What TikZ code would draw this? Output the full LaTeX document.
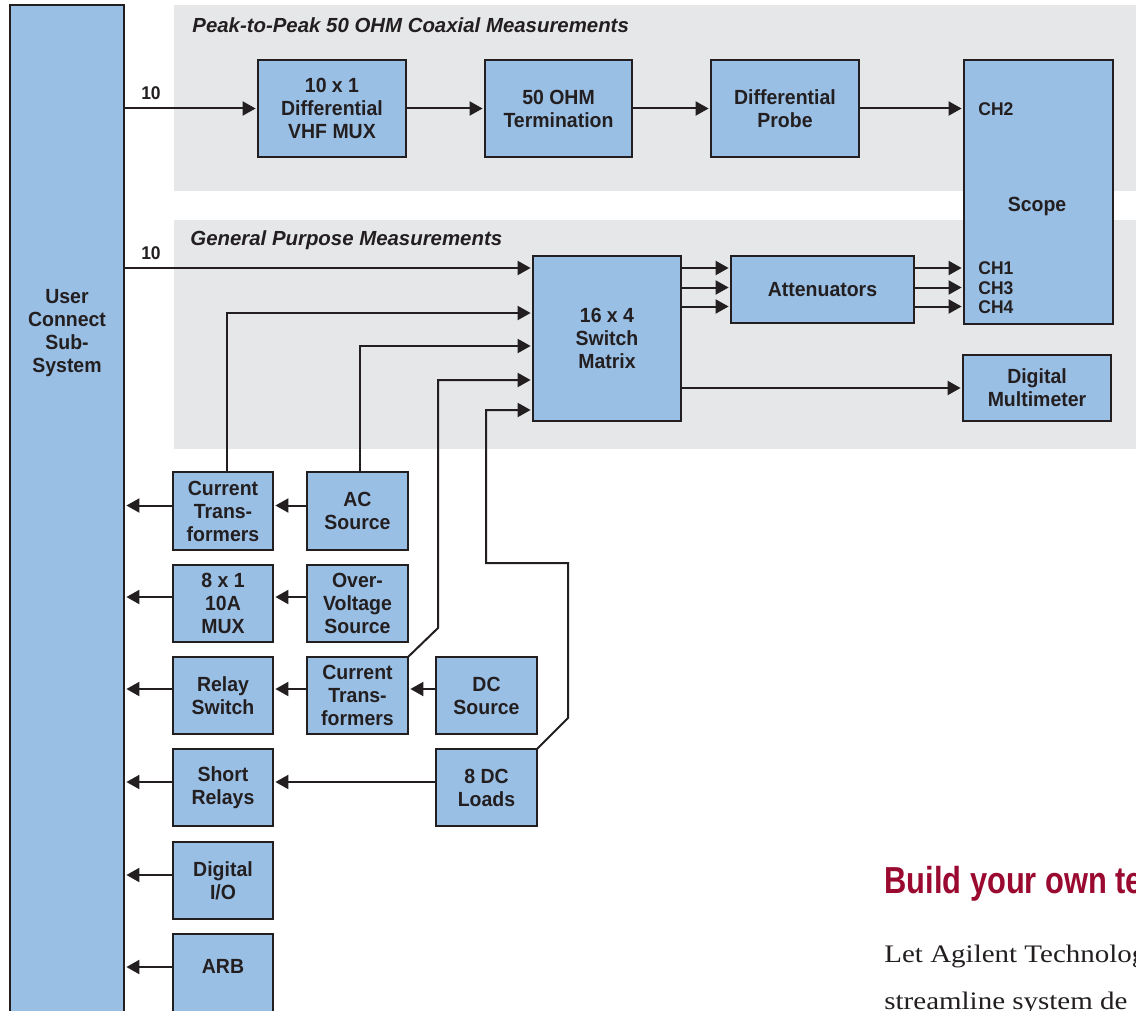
\documentclass[tikz,border=0pt]{standalone}
\usepackage{fontspec}
\setmainfont{Liberation Sans}
\newfontfamily\boxfont[FakeStretch=0.95]{Liberation Sans}
\newfontfamily\titlefont{Liberation Sans}
\newfontfamily\headfont[FakeStretch=0.82]{Liberation Sans}
\newfontfamily\bodyfont[FakeStretch=1.15]{Liberation Serif}
\usetikzlibrary{arrows.meta,calc}
\definecolor{boxc}{HTML}{9ABFE5}
\definecolor{bandc}{HTML}{E6E7E9}
\definecolor{linec}{HTML}{231F20}
\definecolor{headc}{HTML}{9A0A30}
\newcommand\bx[6]{\node[box,minimum width={(#4-#2)*0.5pt},minimum height={(#5-#3)*0.5pt}] (#1) at ({(#2+#4)/2},{(#3+#5)/2}) {#6};}
\begin{document}
\begin{tikzpicture}[x=0.5pt,y=-0.5pt,
  box/.style={draw=linec,line width=1pt,fill=boxc,inner sep=0pt,outer sep=0pt,align=center,
    text=linec,font={\boxfont\bfseries\fontsize{10.25}{11.5}\selectfont}},
  txt/.style={inner sep=0pt,outer sep=0pt,align=center,text=linec,
    font={\boxfont\bfseries\fontsize{10.25}{11.5}\selectfont}},
  small/.style={inner sep=0pt,text=linec,font={\boxfont\bfseries\fontsize{9.2}{10}\selectfont}},
  title/.style={inner sep=0pt,text=linec,font={\titlefont\bfseries\itshape\fontsize{10.2}{11}\selectfont}},
  arr/.style={draw=linec,line width=1pt,-{Triangle[length=6.5pt,width=7pt]},shorten >=1.2pt},
  conn/.style={draw=linec,line width=1pt}]
\useasboundingbox (0,0) rectangle (1136,1011);
\clip (0,0) rectangle (1136,1011);
\fill[white] (0,0) rectangle (1136,1011);
% bands
\fill[bandc] (174,5) rectangle (1150,191);
\fill[bandc] (174,220) rectangle (1150,449);
\node[title,anchor=base west] (t1) at (192,33) {Peak-to-Peak 50 OHM Coaxial Measurements};
\node[title,anchor=base west] (t2) at (190,245) {General Purpose Measurements};
% boxes
\bx{uc}{10}{5}{124}{1030}{}
\bx{mux}{258}{60}{406}{157}{10 x 1\\Differential\\VHF MUX}
\bx{term}{485}{60}{632}{157}{50 OHM\\Termination}
\bx{probe}{711}{60}{859}{157}{Differential\\Probe}
\bx{scope}{964}{60}{1113}{324}{}
\bx{sm}{533}{256}{681}{421}{16 x 4\\Switch\\Matrix}
\bx{att}{731}{256}{914}{323}{Attenuators}
\bx{dmm}{963}{355}{1111}{421}{Digital\\Multimeter}
\bx{ct1}{173}{472}{273}{550}{Current\\Trans-\\formers}
\bx{ac}{307}{472}{408}{550}{AC\\Source}
\bx{mux8}{173}{565}{273}{642}{8 x 1\\10A\\MUX}
\bx{ov}{307}{565}{408}{642}{Over-\\Voltage\\Source}
\bx{relay}{173}{657}{273}{734}{Relay\\Switch}
\bx{ct2}{307}{657}{408}{734}{Current\\Trans-\\formers}
\bx{dcs}{436}{657}{537}{734}{DC\\Source}
\bx{short}{173}{749}{273}{826}{Short\\Relays}
\bx{dcl}{436}{749}{537}{826}{8 DC\\Loads}
\bx{dio}{173}{842}{273}{919}{Digital\\I/O}
\bx{arb}{173}{934}{273}{1030}{}
% texts inside tall boxes
\node[txt] (uct) at (67,333) {User\\Connect\\Sub-\\System};
\node[txt] (arbt) at (223,966) {ARB};
\node[txt,anchor=base] (scopet) at (1037,212) {Scope};
\node[small,anchor=base west] (ch2) at (978,115.5) {CH2};
\node[small,anchor=base west] (ch1) at (978,274.5) {CH1};
\node[small,anchor=base west] (ch3) at (978,294) {CH3};
\node[small,anchor=base west] (ch4) at (978,314) {CH4};
\node[small,anchor=base] (n10a) at (151,99.5) {10};
\node[small,anchor=base] (n10b) at (151,259.5) {10};
% top chain
\draw[arr] (uc.east |- mux.west) -- (mux.west);
\draw[arr] (mux) -- (term);
\draw[arr] (term) -- (probe);
\draw[arr] (probe.east) -- (scope.west |- probe.east);
% switch matrix inputs
\coordinate (s1) at (533,268);
\coordinate (s2) at (533,313);
\coordinate (s3) at (533,346);
\coordinate (s4) at (533,380);
\coordinate (s5) at (533,410);
\draw[arr] (uc.east |- s1) -- (s1);
\draw[arr] ([xshift=2pt]ct1.north) |- (s2);
\draw[arr] ([xshift=1pt]ac.north) |- (s3);
\draw[arr] (ct2.north east) -- ++(30,-29) |- (s4);
\draw[arr] (dcl.north east) -- ++(31,-31) |- (486,563) |- (s5);
% switch matrix outputs
\coordinate (a1) at (731,268);
\coordinate (a2) at (731,287.5);
\coordinate (a3) at (731,306.5);
\foreach \i in {1,2,3}{
  \draw[arr] (sm.east |- a\i) -- (a\i);
  \draw[arr] (att.east |- a\i) -- (scope.west |- a\i);
}
\draw[arr] (sm.east |- dmm.west) -- (dmm.west);
% left arrows
\coordinate (r1) at (0,505.5);
\coordinate (r2) at (0,597);
\coordinate (r3) at (0,689);
\coordinate (r4) at (0,782);
\coordinate (r5) at (0,875);
\coordinate (r6) at (0,967);
\draw[arr] (ct1.west |- r1) -- (uc.east |- r1);
\draw[arr] (ac.west |- r1) -- (ct1.east |- r1);
\draw[arr] (mux8.west |- r2) -- (uc.east |- r2);
\draw[arr] (ov.west |- r2) -- (mux8.east |- r2);
\draw[arr] (relay.west |- r3) -- (uc.east |- r3);
\draw[arr] (ct2.west |- r3) -- (relay.east |- r3);
\draw[arr] (dcs.west |- r3) -- (ct2.east |- r3);
\draw[arr] (short.west |- r4) -- (uc.east |- r4);
\draw[arr] (dcl.west |- r4) -- (short.east |- r4);
\draw[arr] (dio.west |- r5) -- (uc.east |- r5);
\draw[arr] (arb.west |- r6) -- (uc.east |- r6);
% side text
\node[anchor=base west,inner sep=0pt,text=headc,font={\headfont\bfseries\fontsize{18.8}{20}\selectfont}] (head) at (884,893) {Build your own te};
\node[anchor=base west,inner sep=0pt,text=linec,font={\bodyfont\fontsize{12.6}{14}\selectfont}] (body1) at (884,962) {Let Agilent Technolog};
\node[anchor=base west,inner sep=0pt,text=linec,font={\bodyfont\fontsize{12.6}{14}\selectfont}] (body2) at (884,1009) {streamline system de};
\end{tikzpicture}
\end{document}
